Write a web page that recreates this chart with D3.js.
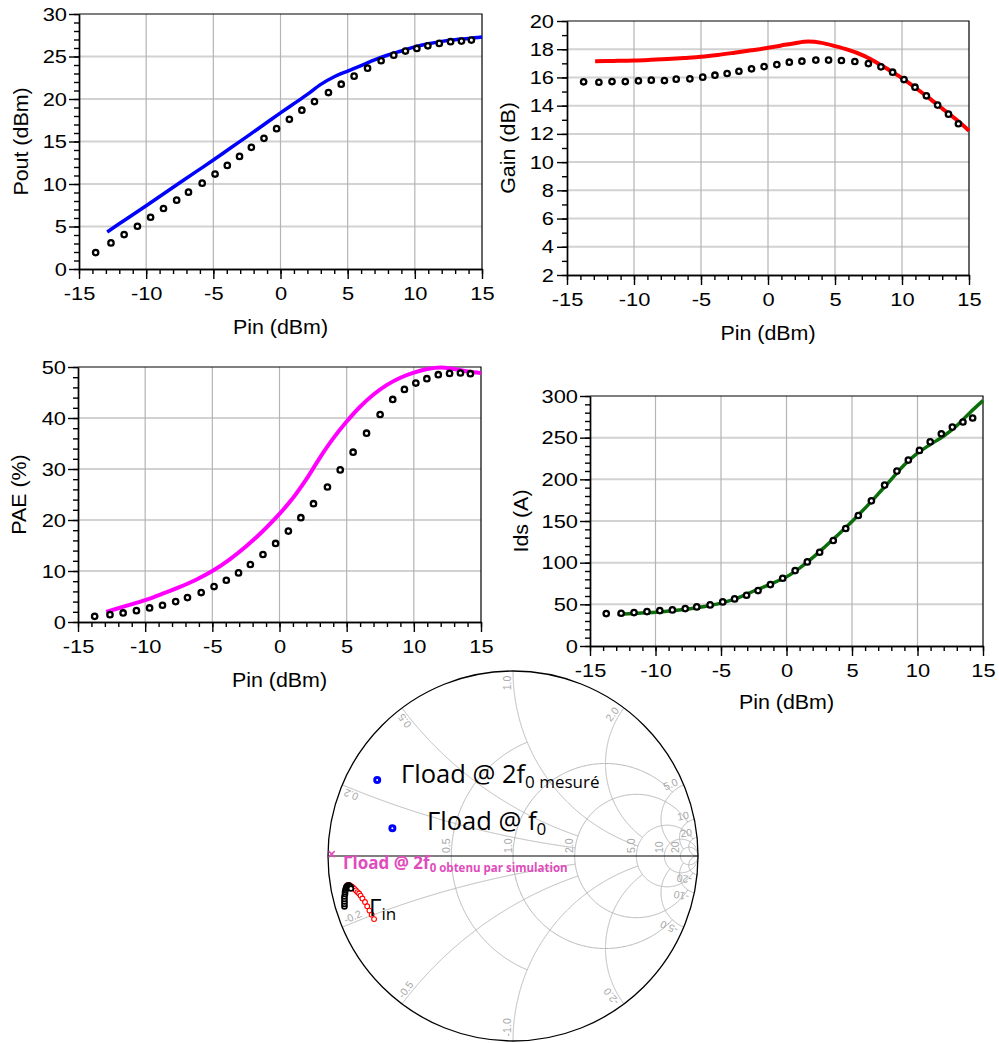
<!DOCTYPE html>
<html><head><meta charset="utf-8">
<script src="https://cdn.jsdelivr.net/npm/d3@7"></script>
<style>body{margin:0;background:#fff}svg{display:block}</style>
</head><body>
<svg id="c" width="999" height="1043"></svg>
<script>
// ---------- DATA ----------
const xTicks = [-15,-10,-5,0,5,10,15];
const poutTicks = [0,5,10,15,20,25,30];
const gainTicks = [2,4,6,8,10,12,14,16,18,20];
const paeTicks = [0,10,20,30,40,50];
const idsTicks = [0,50,100,150,200,250,300];

const pinMeas = [-13.76,-12.62,-11.64,-10.65,-9.67,-8.71,-7.73,-6.85,-5.83,-4.87,-3.96,-3.05,-2.17,-1.23,-0.29,0.66,1.59,2.53,3.57,4.52,5.48,6.48,7.49,8.43,9.3,10.15,10.97,11.82,12.66,13.47,14.21];
const poutMeas = [1.93,3.07,4.05,5.03,6.09,7.12,8.10,9.04,10.10,11.17,12.19,13.25,14.31,15.37,16.51,17.61,18.68,19.70,20.76,21.74,22.69,23.63,24.50,25.16,25.64,25.95,26.26,26.54,26.74,26.81,26.93];
const gainMeas = [15.69,15.66,15.71,15.71,15.76,15.81,15.78,15.88,15.90,16.02,16.16,16.28,16.44,16.61,16.77,16.91,17.08,17.15,17.23,17.23,17.20,17.13,16.98,16.75,16.37,15.85,15.31,14.70,14.04,13.40,12.72];
const paeMeas = [1.11,1.44,1.77,2.23,2.75,3.28,4.00,4.78,5.77,6.95,8.19,9.63,11.27,13.24,15.40,17.82,20.45,23.20,26.47,29.82,33.29,37.02,40.69,43.64,45.61,46.85,47.71,48.49,48.75,48.82,48.69];
const idsMeas = [38.9,39.3,40.1,41.3,42.5,43.3,44.9,46.9,49.3,52.9,56.5,60.9,66.5,73.7,81.3,90.5,100.9,112.5,126.6,141.0,156.6,174.2,193.1,209.9,223.1,234.7,245.1,254.7,262.7,268.8,273.6];

const pinSim  = [-12.9,-11.5,-10,-8.75,-7.5,-6.25,-5,-3.75,-2.5,-1.25,0,1,2,3,4,5,6,7,8,9,10,11,12,13,14,15];
const poutSim = [4.36,5.86,7.45,8.80,10.14,11.48,12.82,14.2,15.57,16.97,18.36,19.45,20.55,21.72,22.62,23.28,23.92,24.6,25.18,25.65,26.13,26.5,26.78,26.98,27.12,27.29];
const gainSim = [17.15,17.17,17.2,17.25,17.31,17.38,17.46,17.59,17.75,17.92,18.1,18.27,18.43,18.54,18.45,18.22,17.95,17.6,17.12,16.55,15.95,15.27,14.55,13.8,13.05,12.23];
const paeSim  = [1.97,3.1,4.3,5.5,6.8,8.25,10.0,12.2,14.8,17.8,21.2,24.3,28.0,32.2,36.0,39.3,42.2,44.6,46.5,47.9,48.9,49.6,49.9,49.6,49.1,48.8];
const idsSim  = [38.1,39.2,40.5,42.3,44.5,47.5,51.5,57.5,66,74,83,93.5,106,120,134.5,149.5,165.5,182.5,200,217.5,231.5,242,252,264.5,280,294.4];

// Smith chart data (reflection coefficient, re / im)
const gammaLoad2f0Meas = [-0.734, 0.411];
const gammaLoadF0 = [-0.652, 0.150];
const gammaLoad2f0Sim = [-0.98, 0.01];
const gammaInMeasRe = [-0.911,-0.911,-0.911,-0.911,-0.911,-0.908,-0.908,-0.905,-0.903,-0.900,-0.895,-0.889,-0.884,-0.878,-0.876];
const gammaInMeasIm = [-0.273,-0.259,-0.246,-0.232,-0.219,-0.205,-0.195,-0.184,-0.176,-0.168,-0.162,-0.159,-0.162,-0.168,-0.176];
const gammaInSimRe = [-0.905,-0.903,-0.897,-0.889,-0.881,-0.873,-0.865,-0.857,-0.849,-0.841,-0.832,-0.824,-0.814,-0.800,-0.788,-0.776,-0.764,-0.751];
const gammaInSimIm = [-0.178,-0.168,-0.159,-0.157,-0.159,-0.165,-0.170,-0.178,-0.186,-0.195,-0.203,-0.214,-0.230,-0.249,-0.272,-0.295,-0.317,-0.341];

const rCircles = [{r:0.5,xmax:1},{r:1,xmax:5},{r:2,xmax:10},{r:5,xmax:20},{r:10,xmax:Infinity},{r:20,xmax:Infinity}];
const xArcs = [{x:0.2,rmax:2},{x:0.5,rmax:2},{x:1,rmax:5},{x:2,rmax:5},{x:5,rmax:10},{x:10,rmax:20},{x:20,rmax:Infinity}];
const rLabels = [{r:0.5,t:"0.5"},{r:1,t:"1.0"},{r:2,t:"2.0"},{r:5,t:"5.0"},{r:10,t:"10"},{r:20,t:"20"}];
const xLabels = [{x:0.2,t:"0.2"},{x:0.5,t:"0.5"},{x:1,t:"1.0"},{x:2,t:"2.0"},{x:5,t:"5.0"},{x:10,t:"10"},{x:20,t:"20"},
                 {x:-0.2,t:"-0.2"},{x:-0.5,t:"-0.5"},{x:-1,t:"-1.0"},{x:-2,t:"-2.0"},{x:-5,t:"-5.0"},{x:-10,t:"-10"},{x:-20,t:"-20"}];

// ---------- DRAW ----------
const FONT = "'Liberation Sans', Arial, sans-serif";
const svg = d3.select('#c');
svg.append('rect').attr('width',999).attr('height',1043).attr('fill','#fff');

function stretch(sel, k){
  sel.each(function(){const w=this.getComputedTextLength(); if(w>0){this.setAttribute('textLength', w*k); this.setAttribute('lengthAdjust','spacingAndGlyphs');}});
}

function makePlot(o){
  const x=d3.scaleLinear().domain([-15,15]).range([o.l,o.r]);
  const y=d3.scaleLinear().domain([o.yTicks[0], o.yTicks[o.yTicks.length-1]]).range([o.b,o.t]);
  const g=svg.append('g');
  g.append('g').selectAll('line').data(o.yTicks.slice(1,-1)).join('line')
    .attr('x1',o.l).attr('x2',o.r).attr('y1',d=>y(d)).attr('y2',d=>y(d))
    .attr('stroke','#d2d2d2').attr('stroke-width',2);
  g.append('g').selectAll('line').data(xTicks.slice(1,-1)).join('line')
    .attr('x1',d=>x(d)).attr('x2',d=>x(d)).attr('y1',o.t).attr('y2',o.b)
    .attr('stroke','#b4b4b4').attr('stroke-width',1.2);
  g.append('path').attr('d',`M${o.l},${o.t}H${o.r}V${o.b}`).attr('fill','none').attr('stroke','#000').attr('stroke-width',1.2);
  const yMin=d3.range(o.yTicks[0], o.yTicks[o.yTicks.length-1]+1e-9, o.yMinor);
  const mx=g.append('g').attr('transform',`translate(0,${o.b})`)
    .call(d3.axisBottom(x).tickValues(d3.range(-15,16)).tickSize(5).tickSizeOuter(0).tickFormat(''));
  const my=g.append('g').attr('transform',`translate(${o.l},0)`)
    .call(d3.axisLeft(y).tickValues(yMin).tickSize(5).tickSizeOuter(0).tickFormat(''));
  const xa=g.append('g').attr('transform',`translate(0,${o.b})`)
    .call(d3.axisBottom(x).tickValues(xTicks).tickSize(10).tickSizeOuter(0).tickPadding(8).tickFormat(d=>String(d)));
  const ya=g.append('g').attr('transform',`translate(${o.l},0)`)
    .call(d3.axisLeft(y).tickValues(o.yTicks).tickSize(10).tickSizeOuter(0).tickPadding(o.yPad).tickFormat(d=>String(d)));
  [mx,my,xa,ya].forEach(a=>{a.selectAll('path,line').attr('stroke','#000').attr('stroke-width',1.4);});
  [xa,ya].forEach(a=>{a.attr('font-family',null).attr('font-size',null);
    a.selectAll('text').attr('font-size',19).attr('font-family',FONT).attr('fill','#000');
    stretch(a.selectAll('text'),1.15);});
  const xt=g.append('text').attr('x',(o.l+o.r)/2).attr('y',o.xtY).attr('text-anchor','middle')
    .attr('font-family',FONT).attr('font-size',20).text('Pin (dBm)');
  const yt=g.append('text').attr('transform',`translate(${o.ytX},${(o.t+o.b)/2}) rotate(-90)`).attr('text-anchor','middle')
    .attr('font-family',FONT).attr('font-size',20).text(o.yLabel);
  stretch(xt,1.07); stretch(yt,1.07);
  const ln=d3.line().x((d,i)=>x(pinSim[i])).y(d=>y(d)).curve(d3.curveCatmullRom.alpha(0.5));
  g.append('path').attr('d',ln(o.sim)).attr('fill','none').attr('stroke',o.color).attr('stroke-width',o.lw);
  g.append('g').selectAll('circle').data(o.meas).join('circle')
    .attr('cx',(d,i)=>x(pinMeas[i])).attr('cy',d=>y(d)).attr('r',2.7)
    .attr('fill','#fff').attr('stroke','#000').attr('stroke-width',2.3);
}

makePlot({l:79,r:482,t:14,b:269,yTicks:poutTicks,yMinor:1,yPad:2,xtY:334,ytX:28,yLabel:'Pout (dBm)',sim:poutSim,meas:poutMeas,color:'#0000ff',lw:3.5});
makePlot({l:567,r:969,t:21,b:275,yTicks:gainTicks,yMinor:1,yPad:3,xtY:340,ytX:515,yLabel:'Gain (dB)',sim:gainSim,meas:gainMeas,color:'#ff0000',lw:4});
makePlot({l:78,r:481,t:367,b:622,yTicks:paeTicks,yMinor:2,yPad:2,xtY:687,ytX:26,yLabel:'PAE (%)',sim:paeSim,meas:paeMeas,color:'#ff00ff',lw:4});
makePlot({l:590,r:983,t:396,b:646,yTicks:idsTicks,yMinor:10,yPad:2,xtY:709,ytX:528,yLabel:'Ids (A)',sim:idsSim,meas:idsMeas,color:'#0b6e0b',lw:3.5});

// ---------- SMITH CHART ----------
const CX=513, CY=856, R=185;
const gx=d3.scaleLinear().domain([-1,1]).range([CX-R,CX+R]);
const gy=d3.scaleLinear().domain([-1,1]).range([CY+R,CY-R]);
function gam(r,x){const D=(r+1)*(r+1)+x*x; return [(r*r+x*x-1)/D, 2*x/D];}
const gl=d3.line().x(d=>gx(d[0])).y(d=>gy(d[1]));
const sg=svg.append('g');
rCircles.forEach(({r,xmax})=>{
  const c=r/(r+1), rho=1/(r+1);
  let th0=0;
  if(isFinite(xmax)){const p=gam(r,xmax); th0=Math.atan2(p[1],p[0]-c);}
  const pts=d3.range(0,361).map(i=>{const t=th0+(2*Math.PI-2*th0)*i/360; return [c+rho*Math.cos(t), rho*Math.sin(t)];});
  sg.append('path').attr('d',gl(pts)).attr('fill','none').attr('stroke','#b8b8b8').attr('stroke-width',1);
});
xArcs.forEach(({x,rmax})=>{
  [x,-x].forEach(xx=>{
    const tmax=isFinite(rmax)?rmax/(1+rmax):0.9995;
    const pts=d3.range(0,401).map(i=>{const t=tmax*i/400; const r=t/(1-t); return gam(r,xx);});
    sg.append('path').attr('d',gl(pts)).attr('fill','none').attr('stroke','#b8b8b8').attr('stroke-width',1);
  });
});
sg.append('circle').attr('cx',gx(0)).attr('cy',gy(0)).attr('r',gx(1)-gx(0)).attr('fill','none').attr('stroke','#000').attr('stroke-width',1.3);
sg.append('line').attr('x1',gx(-1)).attr('x2',gx(1)).attr('y1',gy(0)).attr('y2',gy(0)).attr('stroke','#000').attr('stroke-width',1.2);

rLabels.forEach(({r,t})=>{
  sg.append('text').attr('transform',`translate(${gx((r-1)/(r+1))-1.5},${gy(0)-3}) rotate(-90)`)
    .attr('font-family',FONT).attr('font-size',10.5).attr('fill','#a8a8a8').text(t);
});
xLabels.forEach(({x,t})=>{
  const p=gam(0,x); const phi=Math.atan2(p[1],p[0]);
  const px=gx(0.975*Math.cos(phi)), py=gy(0.975*Math.sin(phi));
  const deg=-phi*180/Math.PI; const rot=x>0?deg:deg+180;
  sg.append('text').attr('transform',`translate(${px},${py}) rotate(${rot})`).attr('dy',-2)
    .attr('text-anchor',x>0?'end':'start').attr('font-family',FONT).attr('font-size',10.5).attr('fill','#a8a8a8').text(t);
});

sg.append('g').selectAll('circle').data(gammaInSimRe).join('circle')
  .attr('cx',d=>gx(d)).attr('cy',(d,i)=>gy(gammaInSimIm[i])).attr('r',2.4)
  .attr('fill','#fff').attr('stroke','#ff0000').attr('stroke-width',1.1);
sg.append('g').selectAll('circle').data(gammaInMeasRe).join('circle')
  .attr('cx',d=>gx(d)).attr('cy',(d,i)=>gy(gammaInMeasIm[i])).attr('r',2.4)
  .attr('fill','#fff').attr('stroke','#000').attr('stroke-width',1.8);
[gammaLoad2f0Meas, gammaLoadF0].forEach(p=>{
  sg.append('circle').attr('cx',gx(p[0])).attr('cy',gy(p[1])).attr('r',2.5)
    .attr('fill','#fff').attr('stroke','#0000ff').attr('stroke-width',3);
});
{
  const px=gx(gammaLoad2f0Sim[0]), py=gy(gammaLoad2f0Sim[1]);
  sg.append('path').attr('d',`M${px-3},${py-3}L${px+3},${py+3}M${px-3},${py+3}L${px+3},${py-3}`)
    .attr('stroke','#e04cbc').attr('stroke-width',1.5);
}
const AF="'Open Sans', 'Noto Sans', sans-serif";
const t1=sg.append('text').attr('x',401).attr('y',783).attr('font-family',AF).attr('fill','#000');
t1.append('tspan').attr('font-size',25.5).text('Γload @ 2f');
t1.append('tspan').attr('font-size',17).attr('dy',5).text('0 mesuré');
const t2=sg.append('text').attr('x',427).attr('y',830).attr('font-family',AF).attr('fill','#000');
t2.append('tspan').attr('font-size',25.5).text('Γload @ f');
t2.append('tspan').attr('font-size',17).attr('dy',5).text('0');
const t3=sg.append('text').attr('x',343).attr('y',869).attr('font-family',AF).attr('font-weight','bold').attr('fill','#e04cbc');
t3.append('tspan').attr('font-size',17).text('Γload @ 2f');
t3.append('tspan').attr('font-size',11.5).attr('dy',3).text('0 obtenu par simulation');
const t4=sg.append('text').attr('x',369).attr('y',916).attr('font-family',AF).attr('fill','#000');
t4.append('tspan').attr('font-size',24).text('Γ');
t4.append('tspan').attr('font-size',17).attr('dy',4).text('in');
</script>
</body></html>
